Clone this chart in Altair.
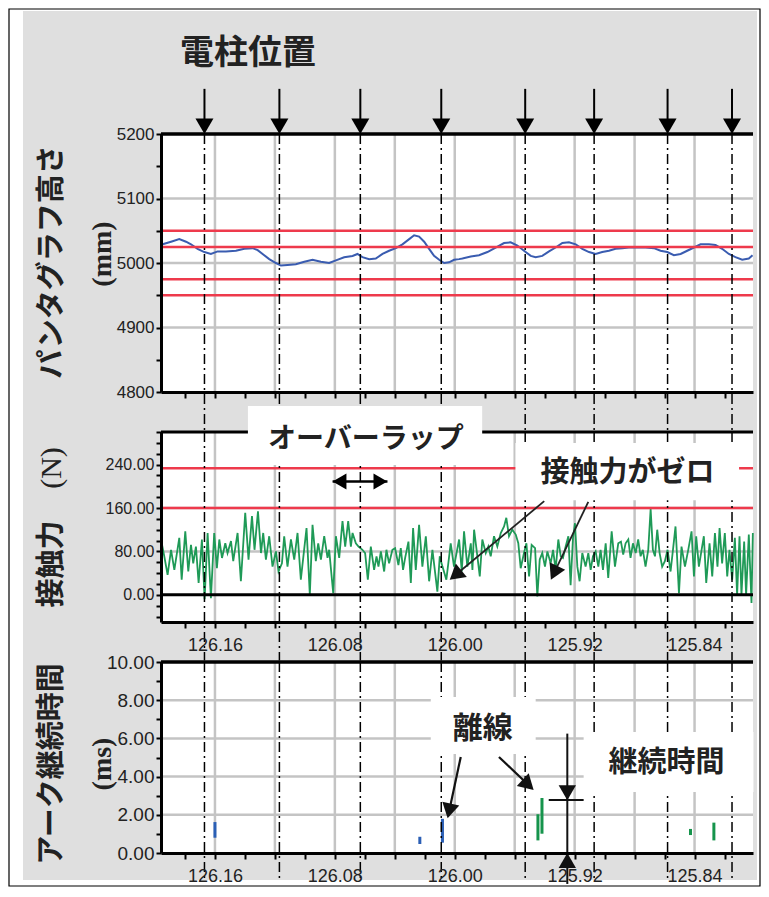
import altair as alt
import pandas as pd

# ---------------- data ----------------
height_km = [126.1960, 126.1949, 126.1893, 126.1838, 126.1793, 126.1760, 126.1716, 126.1671,
             126.1627, 126.1582, 126.1527, 126.1460, 126.1404, 126.1349, 126.1315, 126.1282,
             126.1238, 126.1193, 126.1160, 126.1116, 126.1060, 126.1004, 126.0949, 126.0893,
             126.0838, 126.0793, 126.0738, 126.0682, 126.0649, 126.0616, 126.0571, 126.0527,
             126.0482, 126.0438, 126.0393, 126.0349, 126.0304, 126.0271, 126.0238, 126.0204,
             126.0171, 126.0138, 126.0104, 126.0071, 126.0038, 126.0004, 125.9971, 125.9949,
             125.9893, 125.9838, 125.9782, 125.9727, 125.9671, 125.9627, 125.9582, 125.9538,
             125.9493, 125.9460, 125.9416, 125.9371, 125.9327, 125.9282, 125.9238, 125.9193,
             125.9149, 125.9104, 125.9060, 125.9016, 125.8971, 125.8927, 125.8882, 125.8838,
             125.8782, 125.8727, 125.8671, 125.8627, 125.8582, 125.8538, 125.8493, 125.8449,
             125.8404, 125.8360, 125.8304, 125.8260, 125.8216, 125.8171, 125.8127, 125.8082,
             125.8038, 125.8013]
height_mm = [5028, 5029, 5033, 5037, 5033, 5029, 5022, 5017,
             5014, 5018, 5018, 5019, 5022, 5023, 5020, 5014,
             5006, 5000, 4996, 4997, 4998, 5002, 5005, 5002,
             5000, 5004, 5009, 5011, 5014, 5009, 5006, 5007,
             5014, 5019, 5023, 5029, 5037, 5043, 5041, 5033,
             5022, 5011, 5005, 5000, 5001, 5005, 5006, 5007,
             5010, 5012, 5017, 5024, 5031, 5032, 5027, 5019,
             5011, 5009, 5011, 5018, 5024, 5031, 5032, 5029,
             5022, 5017, 5014, 5017, 5019, 5022, 5023, 5024,
             5024, 5024, 5023, 5019, 5017, 5012, 5014, 5019,
             5024, 5029, 5029, 5028, 5022, 5014, 5009, 5005,
             5007, 5012]

force_km = [126.1960, 126.1938, 126.1916, 126.1893, 126.1871, 126.1838, 126.1822, 126.1798,
            126.1778, 126.1760, 126.1745, 126.1727, 126.1709, 126.1687, 126.1669, 126.1649,
            126.1627, 126.1605, 126.1587, 126.1571, 126.1553, 126.1531, 126.1516, 126.1493,
            126.1478, 126.1449, 126.1427, 126.1398, 126.1376, 126.1353, 126.1336, 126.1313,
            126.1293, 126.1278, 126.1260, 126.1238, 126.1216, 126.1193, 126.1176, 126.1153,
            126.1138, 126.1116, 126.1093, 126.1071, 126.1049, 126.1027, 126.0989, 126.0967,
            126.0949, 126.0927, 126.0911, 126.0893, 126.0871, 126.0849, 126.0838, 126.0811,
            126.0793, 126.0771, 126.0749, 126.0731, 126.0711, 126.0693, 126.0682, 126.0660,
            126.0642, 126.0616, 126.0598, 126.0580, 126.0560, 126.0538, 126.0522, 126.0509,
            126.0493, 126.0471, 126.0456, 126.0438, 126.0416, 126.0398, 126.0376, 126.0360,
            126.0345, 126.0331, 126.0309, 126.0293, 126.0278, 126.0260, 126.0238, 126.0216,
            126.0193, 126.0171, 126.0149, 126.0116, 126.0100, 126.0082, 126.0056, 126.0027,
            126.0005, 125.9971, 125.9953, 125.9938, 125.9916, 125.9893, 125.9882, 125.9871,
            125.9849, 125.9833, 125.9816, 125.9793, 125.9776, 125.9760, 125.9738, 125.9716,
            125.9693, 125.9671, 125.9656, 125.9638, 125.9616, 125.9593, 125.9576, 125.9560,
            125.9538, 125.9522, 125.9504, 125.9487, 125.9464, 125.9449, 125.9433, 125.9416,
            125.9398, 125.9382, 125.9360, 125.9344, 125.9327, 125.9309, 125.9293, 125.9278,
            125.9260, 125.9242, 125.9227, 125.9211, 125.9198, 125.9182, 125.9167, 125.9149,
            125.9127, 125.9109, 125.9093, 125.9078, 125.9060, 125.9042, 125.9027, 125.9011,
            125.8993, 125.8976, 125.8953, 125.8931, 125.8909, 125.8891, 125.8876, 125.8860,
            125.8842, 125.8827, 125.8811, 125.8793, 125.8776, 125.8760, 125.8745, 125.8727,
            125.8709, 125.8693, 125.8678, 125.8664, 125.8649, 125.8633, 125.8616, 125.8598,
            125.8580, 125.8560, 125.8544, 125.8527, 125.8504, 125.8487, 125.8464, 125.8442,
            125.8420, 125.8404, 125.8389, 125.8371, 125.8353, 125.8338, 125.8322, 125.8300,
            125.8282, 125.8264, 125.8247, 125.8233, 125.8216, 125.8198, 125.8182, 125.8167,
            125.8149, 125.8131, 125.8116, 125.8100, 125.8087, 125.8069, 125.8056, 125.8038,
            125.8020, 125.8011]
force_n = [102, 71, 37, 83, 46, 105, 28, 117,
           43, 92, 58, 89, 22, 102, -8, 114,
           -6, 114, 49, 102, 68, 95, 77, 99,
           62, 114, 25, 151, 65, 145, 83, 154,
           77, 114, 65, 108, 52, 80, 43, 58,
           108, 52, 102, 65, 114, 28, 123, 0,
           129, 62, 95, 65, 108, 68, 83, 3,
           108, 68, 136, 89, 136, 89, 114, 95,
           89, 83, 77, 28, 89, 46, 71, 52,
           80, 43, 83, 58, 83, 86, 55, 86,
           46, 68, 98, 22, 123, 46, 129, 52,
           108, 25, 83, 6, 71, 52, 28, 95,
           52, 102, 43, 117, 52, 95, 46, 120,
           71, 34, 102, 77, 89, 71, 108, 89,
           114, 126, 142, 108, 120, 111, 95, 49,
           77, 95, 34, 92, 86, -3, 65, 77,
           52, 80, 58, 83, 46, 102, 71, 68,
           89, 108, 18, 105, 132, 52, 25, 77,
           52, 77, 46, 71, 80, 52, 83, 46,
           95, 31, 117, 52, 95, 98, 74, 95,
           102, 68, 95, 77, 102, 71, 83, 52,
           83, 158, 83, 71, 120, 77, 52, 62,
           83, 43, 83, 126, 3, 89, 52, 83,
           117, 34, 108, 52, 83, 108, 22, 95,
           34, 114, 52, 123, 58, 114, 34, 83,
           28, 105, 0, 108, 0, 98, 0, 111,
           -15, 114]

arc_km = [126.1600, 126.0233, 126.0082, 125.9445, 125.9418, 125.8427, 125.8271]
arc_low_ms = [0.80, 0.47, 0.54, 0.66, 1.01, 0.94, 0.66]
arc_high_ms = [1.62, 0.85, 1.79, 2.03, 2.88, 1.26, 1.59]
arc_group = ["A", "A", "A", "B", "B", "B", "B"]

pole_km = [126.167, 126.117, 126.063, 126.009, 125.953, 125.907, 125.858, 125.815]
height_limits = [5050, 5025, 4975, 4950]
force_limits = [233, 160]

x_ticks = [126.18, 126.16, 126.14, 126.12, 126.10, 126.08, 126.06, 126.04, 126.02, 126.00,
           125.98, 125.96, 125.94, 125.92, 125.90, 125.88, 125.86, 125.84, 125.82]
x_grid = [126.16, 126.12, 126.08, 126.04, 126.00, 125.96, 125.92, 125.88, 125.84]
height_ticks = [4800, 4850, 4900, 4950, 5000, 5050, 5100, 5150, 5200]
height_grid = [4900, 5000, 5100]
force_ticks = [-40, -20, 0, 20, 40, 60, 80, 100, 120, 140, 160, 180, 200, 220, 240, 260, 280, 300]
force_grid = [80, 160]
arc_ticks = [0, 1, 2, 3, 4, 5, 6, 7, 8, 9, 10]
arc_grid = [2, 4, 6, 8]

# ---------------- styling ----------------
CJK = "Noto Sans CJK JP"
NARROW = "Liberation Sans Narrow, Arial Narrow, Liberation Sans, sans-serif"
SANS = "Liberation Sans, Arial, sans-serif"
SERIF = "Liberation Serif, Times New Roman, serif"
GRID = "#c4c4c4"
RED = "#ee3a4c"
W = 592

XS = alt.Scale(domain=[125.801, 126.196], reverse=True, nice=False, zero=False)
YS_H = alt.Scale(domain=[4800, 5200], nice=False, zero=False)
YS_F = alt.Scale(domain=[-50, 300], nice=False, zero=False)
YS_A = alt.Scale(domain=[0, 10], nice=False, zero=False)


def x_axis(labels):
    return alt.Axis(values=x_ticks, title=None, grid=False, labels=labels,
                    labelExpr="round(datum.value*100) % 8 == 0 ? format(datum.value, '.2f') : ''",
                    labelFont=NARROW, labelFontSize=18, labelColor="#222", labelPadding=8,
                    labelOverlap=False, labelFlush=False,
                    tickColor="black", tickWidth=2, tickSize=6,
                    domainColor="black", domainWidth=3, zindex=1)


def y_axis(values, expr, font, size, weight="normal"):
    return alt.Axis(values=values, title=None, grid=False, labelExpr=expr,
                    labelFont=font, labelFontSize=size, labelFontWeight=weight,
                    labelColor="#222", labelPadding=2,
                    labelOverlap=False, tickColor="black", tickWidth=2, tickSize=5,
                    domainColor="black", domainWidth=3, zindex=1)


AX_X_TOP = x_axis(False)
AX_X = x_axis(True)
AX_H = y_axis(height_ticks, "datum.value % 100 == 0 ? format(datum.value, 'd') : ''", SANS, 17)
AX_F = y_axis(force_ticks, "(datum.value >= 0 && datum.value % 80 == 0) ? format(datum.value, '.2f') : ''", SANS, 16)
AX_A = y_axis(arc_ticks, "datum.value % 2 == 0 ? format(datum.value, '.2f') : ''", NARROW, 19)


def ex(field, ax):
    return alt.X(field, type="quantitative", scale=XS, axis=ax)


def ey(field, sc, ax):
    return alt.Y(field, type="quantitative", scale=sc, axis=ax)


one = pd.DataFrame({"a": [0]})

# ================= top panel: pantograph height =================
hdf = pd.DataFrame({"km": height_km, "v": height_mm})
poles_top = pd.DataFrame({"km": pole_km, "top": [5200] * 8, "bot": [4736] * 8,
                          "s0": [5270] * 8, "s1": [5212] * 8, "tip": [5200] * 8})

frame = alt.Chart(one).mark_rect(fill="white", stroke="black", strokeWidth=1.2).encode(
    x=alt.value(-152), x2=alt.value(599), y=alt.value(-125), y2=alt.value(752))
gray = alt.Chart(one).mark_rect(fill="#dfdfdf").encode(
    x=alt.value(-138), x2=alt.value(596), y=alt.value(-123), y2=alt.value(746))
plotbg = alt.Chart(one).mark_rect(fill="white").encode(
    x=alt.value(0), x2=alt.value(W), y=alt.value(0), y2=alt.value(258))

t_vgrid = alt.Chart(pd.DataFrame({"km": x_grid})).mark_rule(color=GRID, strokeWidth=2.5).encode(
    x=ex("km", AX_X_TOP))
t_hgrid = alt.Chart(pd.DataFrame({"v": height_grid})).mark_rule(color=GRID, strokeWidth=2.5).encode(
    y=ey("v", YS_H, AX_H))
t_line = alt.Chart(hdf).mark_line(color="#3a5cb0", strokeWidth=2).encode(
    x=ex("km", AX_X_TOP), y=ey("v", YS_H, AX_H))
t_red = alt.Chart(pd.DataFrame({"v": height_limits})).mark_rule(color=RED, strokeWidth=2.5).encode(
    y=ey("v", YS_H, AX_H))
t_border = alt.Chart(pd.DataFrame({"v": [5200]})).mark_rule(color="black", strokeWidth=3.5).encode(
    y=ey("v", YS_H, AX_H))
t_dash = alt.Chart(poles_top).mark_rule(color="black", strokeWidth=1.5, strokeDash=[10, 4, 2, 4]).encode(
    x=ex("km", AX_X_TOP), y=ey("top", YS_H, AX_H), y2="bot")
t_shaft = alt.Chart(poles_top).mark_rule(color="black", strokeWidth=2).encode(
    x=ex("km", AX_X_TOP), y=ey("s0", YS_H, AX_H), y2="s1")
t_head = alt.Chart(poles_top).mark_point(shape="triangle-down", filled=True, size=324, color="black",
                                         opacity=1, strokeWidth=0, yOffset=-7.8).encode(
    x=ex("km", AX_X_TOP), y=ey("tip", YS_H, AX_H))
t_title = alt.Chart(one).mark_text(font=CJK, fontWeight="bold", fontSize=34, color="#222",
                                   align="center", baseline="middle").encode(
    x=alt.value(87), y=alt.value(-80), text=alt.value("電柱位置"))
t_ytitle = alt.Chart(one).mark_text(font=CJK, fontWeight="bold", fontSize=29, color="#222",
                                    angle=270, align="center", baseline="middle").encode(
    x=alt.value(-109), y=alt.value(128), text=alt.value("パンタグラフ高さ"))
t_yunit = alt.Chart(one).mark_text(font=SERIF, fontWeight="bold", fontSize=28, color="#222",
                                   angle=270, align="center", baseline="middle").encode(
    x=alt.value(-58), y=alt.value(120), text=alt.value("(mm)"))

top = alt.layer(frame, gray, plotbg, t_vgrid, t_hgrid, t_line, t_red, t_border, t_dash,
                t_shaft, t_head, t_title, t_ytitle, t_yunit).properties(width=W, height=258)

# ================= middle panel: contact force =================
fdf = pd.DataFrame({"km": force_km, "v": force_n})
poles_mid = pd.DataFrame({"km": pole_km, "top": [300] * 8, "bot": [-121] * 8})

overlap_box = pd.DataFrame({"x0": [126.138], "x1": [125.9817], "y0": [348], "y1": [239]})
overlap_txt = pd.DataFrame({"km": [126.0593], "v": [285], "t": ["オーバーラップ"]})
overlap_line = pd.DataFrame({"x0": [126.0815], "x1": [126.0449], "v": [209]})
overlap_heads = pd.DataFrame({"km": [126.0769, 126.0496], "v": [209, 209],
                              "shape": ["triangle-left", "triangle-right"]})
zero_box = pd.DataFrame({"x0": [125.9595], "x1": [125.8103], "y0": [279.7], "y1": [174.4]})
zero_txt = pd.DataFrame({"km": [125.8847], "v": [224], "t": ["接触力がゼロ"]})
zero_arrows = pd.DataFrame({"x0": [125.9403, 125.9109], "y0": [172.6, 171.3],
                            "x1": [125.9995, 125.9337], "y1": [36.6, 40.5],
                            "ang": [230.4, 205.7]})

m_vgrid = alt.Chart(pd.DataFrame({"km": x_grid})).mark_rule(color=GRID, strokeWidth=2.5).encode(
    x=ex("km", AX_X))
m_hgrid = alt.Chart(pd.DataFrame({"v": force_grid})).mark_rule(color=GRID, strokeWidth=2.5).encode(
    y=ey("v", YS_F, AX_F))
m_line = alt.Chart(fdf).mark_line(color="#1f9a57", strokeWidth=1.8).encode(
    x=ex("km", AX_X), y=ey("v", YS_F, AX_F))
m_red = alt.Chart(pd.DataFrame({"v": force_limits})).mark_rule(color=RED, strokeWidth=2.5).encode(
    y=ey("v", YS_F, AX_F))
m_border = alt.Chart(pd.DataFrame({"v": [300, 0]})).mark_rule(color="black", strokeWidth=3).encode(
    y=ey("v", YS_F, AX_F))
m_dash = alt.Chart(poles_mid).mark_rule(color="black", strokeWidth=1.5, strokeDash=[10, 4, 2, 4]).encode(
    x=ex("km", AX_X), y=ey("top", YS_F, AX_F), y2="bot")
m_obox = alt.Chart(overlap_box).mark_rect(fill="white").encode(
    x=ex("x0", AX_X), x2="x1", y=ey("y0", YS_F, AX_F), y2="y1")
m_otxt = alt.Chart(overlap_txt).mark_text(font=CJK, fontWeight="bold", fontSize=28, color="#222").encode(
    x=ex("km", AX_X), y=ey("v", YS_F, AX_F), text="t:N")
m_oline = alt.Chart(overlap_line).mark_rule(color="black", strokeWidth=2.5).encode(
    x=ex("x0", AX_X), x2="x1", y=ey("v", YS_F, AX_F))
m_oheads = alt.Chart(overlap_heads).mark_point(filled=True, size=256, color="black", opacity=1,
                                               strokeWidth=0).encode(
    x=ex("km", AX_X), y=ey("v", YS_F, AX_F),
    shape=alt.Shape("shape:N", scale=None))
m_zbox = alt.Chart(zero_box).mark_rect(fill="white").encode(
    x=ex("x0", AX_X), x2="x1", y=ey("y0", YS_F, AX_F), y2="y1")
m_ztxt = alt.Chart(zero_txt).mark_text(font=CJK, fontWeight="bold", fontSize=29, color="#222").encode(
    x=ex("km", AX_X), y=ey("v", YS_F, AX_F), text="t:N")
m_zlines = alt.Chart(zero_arrows).mark_rule(color="#222", strokeWidth=1.8).encode(
    x=ex("x0", AX_X), x2="x1", y=ey("y0", YS_F, AX_F), y2="y1")
m_zheads = alt.Chart(zero_arrows).mark_point(shape="triangle-up", filled=True, size=300, color="#111",
                                             opacity=1, strokeWidth=0).encode(
    x=ex("x1", AX_X), y=ey("y1", YS_F, AX_F), angle=alt.Angle("ang:Q", scale=None))
m_ytitle = alt.Chart(one).mark_text(font=CJK, fontWeight="bold", fontSize=29, color="#222",
                                    angle=270, align="center", baseline="middle").encode(
    x=alt.value(-109), y=alt.value(132), text=alt.value("接触力"))
m_yunit = alt.Chart(one).mark_text(font=SERIF, fontSize=30, color="#222",
                                   angle=270, align="center", baseline="middle").encode(
    x=alt.value(-109), y=alt.value(36), text=alt.value("(N)"))

mid = alt.layer(m_vgrid, m_hgrid, m_line, m_red, m_border, m_dash, m_obox, m_otxt, m_oline,
                m_oheads, m_zbox, m_ztxt, m_zlines, m_zheads, m_ytitle, m_yunit
                ).properties(width=W, height=190)

# ================= bottom panel: arc duration =================
adf = pd.DataFrame({"km": arc_km, "lo": arc_low_ms, "hi": arc_high_ms, "g": arc_group})
poles_bot = pd.DataFrame({"km": pole_km, "top": [10] * 8, "bot": [-1.47] * 8})
sen_box = pd.DataFrame({"x0": [126.016], "x1": [125.946], "y0": [8.17], "y1": [5.18]})
sen_txt = pd.DataFrame({"km": [125.9813], "v": [6.5], "t": ["離線"]})
sen_arrows = pd.DataFrame({"x0": [125.996, 125.9705], "y0": [5.03, 5.03],
                           "x1": [126.0037, 125.951], "y1": [2.2, 3.57],
                           "ang": [192.2, 133.5]})
dur_box = pd.DataFrame({"x0": [125.914], "x1": [125.8007], "y0": [6.34], "y1": [3.19]})
dur_txt = pd.DataFrame({"km": [125.8587], "v": [4.72], "t": ["継続時間"]})
meas_v = pd.DataFrame({"km": [125.9249], "y0": [6.25], "y1": [-1.62]})
meas_h = pd.DataFrame({"x0": [125.9373], "x1": [125.914], "v": [2.77]})
meas_dn = pd.DataFrame({"km": [125.9249], "v": [2.77]})
meas_up = pd.DataFrame({"km": [125.9249], "v": [0.0]})

b_vgrid = alt.Chart(pd.DataFrame({"km": x_grid})).mark_rule(color=GRID, strokeWidth=2.5).encode(
    x=ex("km", AX_X))
b_hgrid = alt.Chart(pd.DataFrame({"v": arc_grid})).mark_rule(color=GRID, strokeWidth=2.5).encode(
    y=ey("v", YS_A, AX_A))
b_bars = alt.Chart(adf).mark_rule(strokeWidth=3).encode(
    x=ex("km", AX_X), y=ey("lo", YS_A, AX_A), y2="hi",
    color=alt.Color("g:N", scale=alt.Scale(domain=["A", "B"], range=["#2b5fb5", "#16944c"]), legend=None))
b_border = alt.Chart(pd.DataFrame({"v": [10]})).mark_rule(color="black", strokeWidth=3.5).encode(
    y=ey("v", YS_A, AX_A))
b_dash = alt.Chart(poles_bot).mark_rule(color="black", strokeWidth=1.5, strokeDash=[10, 4, 2, 4]).encode(
    x=ex("km", AX_X), y=ey("top", YS_A, AX_A), y2="bot")
b_sbox = alt.Chart(sen_box).mark_rect(fill="white").encode(
    x=ex("x0", AX_X), x2="x1", y=ey("y0", YS_A, AX_A), y2="y1")
b_stxt = alt.Chart(sen_txt).mark_text(font=CJK, fontWeight="bold", fontSize=30, color="#222").encode(
    x=ex("km", AX_X), y=ey("v", YS_A, AX_A), text="t:N")
b_slines = alt.Chart(sen_arrows).mark_rule(color="#111", strokeWidth=2.2).encode(
    x=ex("x0", AX_X), x2="x1", y=ey("y0", YS_A, AX_A), y2="y1")
b_sheads = alt.Chart(sen_arrows).mark_point(shape="triangle-up", filled=True, size=300, color="#111",
                                            opacity=1, strokeWidth=0).encode(
    x=ex("x1", AX_X), y=ey("y1", YS_A, AX_A), angle=alt.Angle("ang:Q", scale=None))
b_dbox = alt.Chart(dur_box).mark_rect(fill="white").encode(
    x=ex("x0", AX_X), x2="x1", y=ey("y0", YS_A, AX_A), y2="y1")
b_dtxt = alt.Chart(dur_txt).mark_text(font=CJK, fontWeight="bold", fontSize=29, color="#222").encode(
    x=ex("km", AX_X), y=ey("v", YS_A, AX_A), text="t:N")
b_mv = alt.Chart(meas_v).mark_rule(color="#111", strokeWidth=2).encode(
    x=ex("km", AX_X), y=ey("y0", YS_A, AX_A), y2="y1")
b_mh = alt.Chart(meas_h).mark_rule(color="#111", strokeWidth=2).encode(
    x=ex("x0", AX_X), x2="x1", y=ey("v", YS_A, AX_A))
b_mdn = alt.Chart(meas_dn).mark_point(shape="triangle-down", filled=True, size=300, color="#111",
                                      opacity=1, strokeWidth=0, yOffset=-7.4).encode(
    x=ex("km", AX_X), y=ey("v", YS_A, AX_A))
b_mup = alt.Chart(meas_up).mark_point(shape="triangle-up", filled=True, size=300, color="#111",
                                      opacity=1, strokeWidth=0, yOffset=7.4).encode(
    x=ex("km", AX_X), y=ey("v", YS_A, AX_A))
b_ytitle = alt.Chart(one).mark_text(font=CJK, fontWeight="bold", fontSize=29, color="#222",
                                    angle=270, align="center", baseline="middle").encode(
    x=alt.value(-109), y=alt.value(102), text=alt.value("アーク継続時間"))
b_yunit = alt.Chart(one).mark_text(font=SERIF, fontWeight="bold", fontSize=28, color="#222",
                                   angle=270, align="center", baseline="middle").encode(
    x=alt.value(-58), y=alt.value(102), text=alt.value("(ms)"))

bot = alt.layer(b_vgrid, b_hgrid, b_bars, b_border, b_dash, b_sbox, b_stxt, b_slines, b_sheads,
                b_dbox, b_dtxt, b_mv, b_mh, b_mdn, b_mup, b_ytitle, b_yunit
                ).properties(width=W, height=191)

chart = alt.vconcat(top, mid, bot, spacing=40, bounds="flush").properties(
    padding=0, background="white"
).configure_view(stroke=None, fill="white")

chart.save("out.html", embed_options={"renderer": "svg", "actions": False})
